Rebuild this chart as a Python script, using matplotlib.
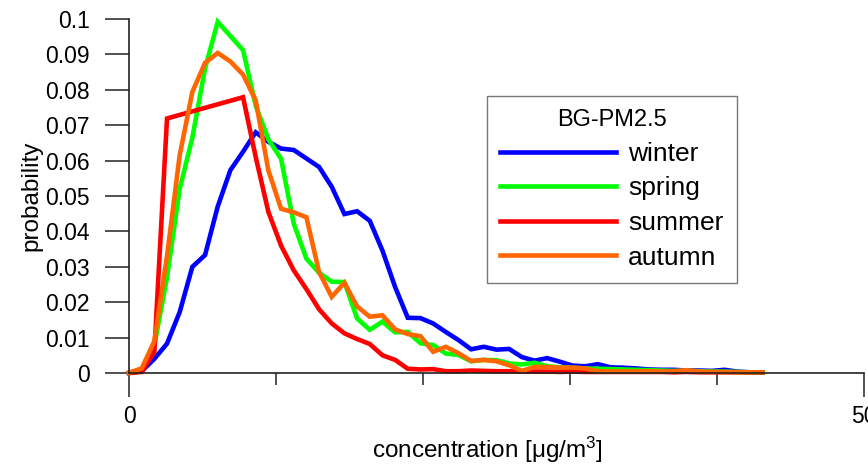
import numpy as np
import matplotlib
matplotlib.use("Agg")
import matplotlib.pyplot as plt

plt.rcParams['font.family'] = ['Liberation Sans', 'DejaVu Sans']
plt.rcParams['mathtext.fontset'] = 'custom'
plt.rcParams['mathtext.rm'] = 'Liberation Sans'
plt.rcParams['mathtext.it'] = 'Liberation Sans'

# concentration bins (µg/m3)
conc = np.arange(51) * 0.862

winter = [0.0, 0.0005, 0.004, 0.0083, 0.0172, 0.030, 0.0333, 0.047, 0.0573, 0.0625,
          0.068, 0.0653, 0.0634, 0.063, 0.0606, 0.0582, 0.0526, 0.0449, 0.0457, 0.043,
          0.0346, 0.0243, 0.0156, 0.0155, 0.014, 0.0116, 0.0093, 0.0067, 0.0074, 0.0066,
          0.0068, 0.0045, 0.0035, 0.0042, 0.0032, 0.0021, 0.0019, 0.0025, 0.0016, 0.0015,
          0.0013, 0.001, 0.0009, 0.0009, 0.0007, 0.0007, 0.0006, 0.0009, 0.0004, 0.0002,
          0.0001]
spring = [0.0, 0.0007, 0.0078, 0.027, 0.052, 0.0665, 0.086, 0.0992, 0.0952, 0.0912,
          0.0755, 0.066, 0.0605, 0.0422, 0.0323, 0.0283, 0.0258, 0.0257, 0.0154, 0.0122,
          0.0145, 0.0115, 0.0116, 0.0084, 0.0079, 0.0055, 0.0051, 0.0033, 0.0037, 0.0036,
          0.0027, 0.0024, 0.0029, 0.0019, 0.0016, 0.0015, 0.0013, 0.0012, 0.0011, 0.001,
          0.0009, 0.0008, 0.0007, 0.0006, 0.0006, 0.0005, 0.0004, 0.0004, 0.0003, 0.0002,
          0.0002]
summer = [0.0, 0.0003, 0.006, 0.0719, 0.0729, 0.0739, 0.0749, 0.0759, 0.0769, 0.0779,
          0.061, 0.0455, 0.036, 0.029, 0.0237, 0.018, 0.014, 0.0112, 0.0096, 0.0082,
          0.005, 0.0037, 0.0012, 0.001, 0.0011, 0.0005, 0.0005, 0.0007, 0.0006, 0.0005,
          0.0005, 0.0004, 0.0004, 0.0004, 0.0003, 0.0004, 0.0003, 0.0003, 0.0003, 0.0003,
          0.0003, 0.0003, 0.0003, 0.0002, 0.0003, 0.0002, 0.0002, 0.0002, 0.0002, 0.0002,
          0.0002]
autumn = [0.0001, 0.0013, 0.009, 0.033, 0.0615, 0.0794, 0.0876, 0.0904, 0.088, 0.0843,
          0.077, 0.0572, 0.0464, 0.0454, 0.044, 0.0285, 0.0215, 0.0255, 0.0188, 0.0159,
          0.0163, 0.0123, 0.011, 0.0104, 0.006, 0.0074, 0.0056, 0.0034, 0.0037, 0.0033,
          0.0022, 0.0006, 0.0017, 0.0017, 0.0015, 0.0015, 0.0013, 0.0005, 0.0004, 0.0004,
          0.0004, 0.0005, 0.0004, 0.0005, 0.0008, 0.0004, 0.0003, 0.0003, 0.0002, 0.0002,
          0.0002]

series_names = ['winter', 'spring', 'summer', 'autumn']
series_values = [winter, spring, summer, autumn]
series_colors = ['#0000FF', '#00FF00', '#FF0000', '#FF6600']

yticks = [0, 0.01, 0.02, 0.03, 0.04, 0.05, 0.06, 0.07, 0.08, 0.09, 0.1]
ytick_labels = ['0', '0.01', '0.02', '0.03', '0.04', '0.05', '0.06', '0.07', '0.08', '0.09', '0.1']
xticks_major = [0, 50]
xtick_labels = ['0', '50']
xticks_minor = [10, 20, 30, 40]

fig = plt.figure(figsize=(8.68, 4.66), dpi=100)
ax = fig.add_axes([129 / 868, 93 / 466, 735 / 868, 354 / 466])

for name, vals, col in zip(series_names, series_values, series_colors):
    ax.plot(conc, vals, color=col, lw=3.3, label=name, clip_on=False,
            solid_joinstyle='miter')

ax.set_xlim(0, 50)
ax.set_ylim(0, 0.1)
for s in ['top', 'right']:
    ax.spines[s].set_visible(False)
for s in ['left', 'bottom']:
    ax.spines[s].set_linewidth(1.2)
    ax.spines[s].set_color('#222222')

ax.set_yticks(yticks)
ax.set_yticklabels(ytick_labels)
ax.set_xticks(xticks_major)
ax.set_xticklabels(xtick_labels)
ax.set_xticks(xticks_minor, minor=True)
ax.tick_params(axis='y', which='major', direction='out', length=17, width=1.1,
               pad=11, labelsize=16.5, color='#222222')
ax.tick_params(axis='x', which='major', direction='out', length=17, width=1.1,
               pad=6, labelsize=16.5, color='#222222')
ax.tick_params(axis='x', which='minor', direction='out', length=8.5, width=1.1,
               color='#222222')

ax.set_ylabel('probability', fontsize=17.5)
ax.yaxis.set_label_coords(-0.118, 0.5)
ax.set_xlabel('concentration [μg/m$^{3}$]', fontsize=17.5)
ax.xaxis.set_label_coords(0.488, -0.175)

leg = ax.legend(title='BG-PM2.5', loc='upper left', bbox_to_anchor=(0.487, 0.782),
                borderaxespad=0, fontsize=19, title_fontsize=17, frameon=True,
                fancybox=False, edgecolor='#555555', handlelength=4.4,
                handletextpad=0.45, labelspacing=0.4, borderpad=0.5)
leg.get_frame().set_linewidth(1.0)

fig.savefig('out.png', dpi=100)
